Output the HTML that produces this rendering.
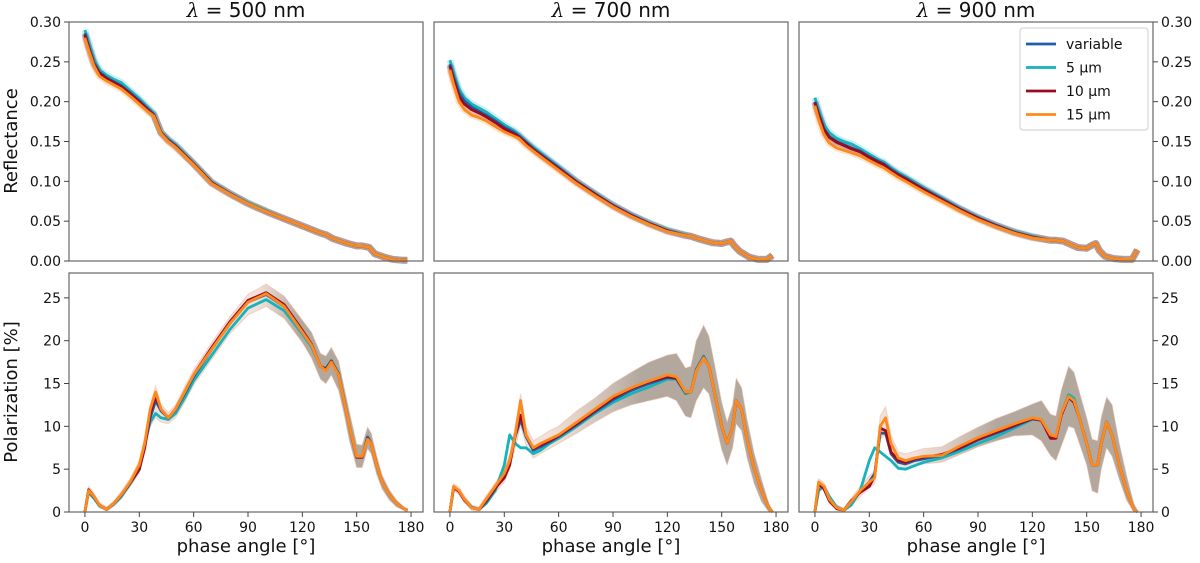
<!DOCTYPE html>
<html><head><meta charset="utf-8"><style>
body{margin:0;background:#fff;}
svg{display:block;font-family:"DejaVu Sans","Liberation Sans",sans-serif;}
</style></head><body>
<svg id="chart" width="1200" height="563" xmlns="http://www.w3.org/2000/svg"></svg>
<script>
const R_X=[0,2,5,8,12,16,20,25,30,35,38,42,46,50,60,70,80,90,100,110,120,130,133,137,145,150,153,155,157,160,165,170,175,178];
const R500_orange=[.280,.265,.245,.232,.226,.221,.216,.207,.197,.187,.182,.160,.150,.143,.121,.097,.084,.072,.062,.053,.044,.035,.033,.028,.022,.019,.019,.018,.017,.009,.005,.002,.001,.001];
const R500_cyan=[.290,.275,.253,.240,.233,.228,.224,.214,.204,.192,.185,.162,.153,.146,.123,.099,.085,.073,.063,.053,.044,.035,.033,.028,.022,.019,.019,.018,.017,.009,.005,.002,.001,.001];
const R500_red=[.284,.268,.247,.236,.229,.224,.219,.210,.200,.189,.183,.161,.151,.144,.122,.098,.084,.072,.062,.053,.044,.035,.033,.028,.022,.019,.019,.018,.017,.009,.005,.002,.001,.001];
const R500_blue=[.286,.270,.249,.237,.230,.225,.220,.211,.201,.190,.184,.161,.152,.145,.122,.098,.085,.072,.062,.053,.044,.035,.033,.028,.022,.019,.019,.018,.017,.009,.005,.002,.001,.001];
const R700_orange=[.240,.222,.200,.190,.183,.180,.176,.169,.162,.157,.154,.145,.138,.131,.114,.097,.082,.068,.056,.046,.037,.032,.031,.028,.023,.022,.024,.025,.019,.012,.005,.002,.002,.007];
const R700_cyan=[.252,.236,.216,.205,.197,.192,.187,.179,.171,.164,.159,.150,.143,.136,.118,.100,.085,.070,.058,.048,.039,.033,.031,.028,.023,.022,.024,.025,.019,.012,.005,.002,.002,.007];
const R700_red=[.245,.228,.207,.197,.190,.186,.181,.174,.166,.160,.156,.148,.140,.133,.116,.099,.084,.069,.057,.047,.038,.032,.031,.028,.023,.022,.024,.025,.019,.012,.005,.002,.002,.007];
const R700_blue=[.247,.231,.211,.201,.193,.188,.183,.176,.168,.162,.157,.149,.141,.134,.117,.099,.084,.070,.058,.047,.038,.032,.031,.028,.023,.022,.024,.025,.019,.012,.005,.002,.002,.007];
const R900_orange=[.195,.178,.158,.148,.142,.139,.136,.132,.126,.120,.117,.111,.105,.100,.087,.075,.063,.052,.043,.035,.029,.026,.026,.025,.017,.016,.020,.022,.013,.006,.003,.002,.002,.014];
const R900_cyan=[.205,.190,.171,.161,.154,.150,.147,.141,.134,.127,.124,.117,.111,.106,.092,.079,.066,.055,.045,.037,.031,.026,.026,.025,.017,.016,.020,.022,.013,.006,.003,.002,.002,.014];
const R900_red=[.199,.184,.165,.155,.149,.145,.141,.137,.130,.124,.121,.114,.108,.103,.090,.077,.065,.054,.044,.036,.030,.026,.026,.025,.017,.016,.020,.022,.013,.006,.003,.002,.002,.014];
const R900_blue=[.200,.185,.166,.156,.150,.146,.142,.138,.131,.125,.122,.115,.109,.104,.090,.078,.065,.054,.045,.036,.030,.026,.026,.025,.017,.016,.020,.022,.013,.006,.003,.002,.002,.014];

const P_X=[0,2,5,8,12,16,20,25,30,33,36,39,42,46,50,55,60,70,80,90,100,110,120,125,130,133,136,140,143,146,150,153,156,158,161,164,168,172,176,178];
const P500_orange=[0,2.5,1.8,0.8,0.3,1,2,3.5,5.5,8,12,14,12,11,12,14,16,19,22,24.5,25.5,24,21,19.5,17,16.5,17.5,16,13,10,6.5,6.5,8.5,8,5.5,3.5,2,1,0.4,0.2];
const P500_cyan=[0,2.3,1.6,0.7,0.3,0.9,1.8,3.3,5,8,10.5,11.5,11,10.8,11.5,13.3,15.3,18.3,21.3,23.8,24.8,23.5,20.8,19.3,17,16.8,17.7,16.2,13.2,10,6.5,6.4,8.8,8,5.5,3.5,2,1,0.4,0.2];
const P500_red=[0,2.6,1.8,0.8,0.3,1,2,3.4,5,7.5,11.5,13.5,12,11,12,14,16,19.2,22.2,24.7,25.6,24.2,21.2,19.6,17,16.6,17.6,16,13,10,6.4,6.4,8.6,8,5.5,3.5,2,1,0.4,0.2];
const P500_blue=[0,2.5,1.7,0.8,0.3,1,1.9,3.4,5,7.8,11,13,11.8,11,11.9,13.8,15.8,19,22,24.5,25.4,24,21,19.5,17,16.7,17.6,16.1,13,10,6.4,6.4,8.7,8,5.5,3.5,2,1,0.4,0.2];
const P500_lo=[0,2,1.4,0.5,0.1,0.7,1.5,3,4.5,7,10,11,10.5,10.3,11,12.8,14.8,17.8,20.8,23,24,22.6,19.8,18,15.5,15,16,14.2,11.5,8.3,5.2,5.2,7.4,6.8,4.4,2.7,1.4,0.6,0.2,0];
const P500_hi=[0,3,2.2,1.1,0.6,1.3,2.4,3.9,6,8.8,12.5,14.7,12.6,11.6,12.5,14.6,16.6,19.8,22.8,25.4,26.6,25.2,22.4,21,18.5,18.2,19.2,17.6,14.6,11.7,7.9,7.8,9.9,9.2,6.6,4.3,2.6,1.4,0.6,0.3];
const P700_orange=[0,3,2.5,1.5,0.5,0.3,1.5,3,4.5,6,9,13,9,7.5,8,8.5,9,10.5,12,13.5,14.5,15.3,16,15.8,14,14,16.5,18,17,14,10,8,10,13,12,8.5,5,2.5,0.5,0];
const P700_cyan=[0,2.8,2.4,1.5,0.6,0.3,1,2.5,5.5,9,8,7.5,7.5,6.8,7.2,8,8.6,10,11.5,12.8,13.8,14.6,15.5,15.5,13.8,14,16.7,18.2,17,14,10,8,10,13,12,8.5,5,2.5,0.5,0];
const P700_red=[0,2.9,2.4,1.4,0.5,0.3,1.3,2.8,4,5.5,9,11.3,9,7.4,7.8,8.3,8.9,10.3,11.8,13.3,14.4,15.2,15.8,15.6,14,14,16.5,18,17,14,10,8,10,13,12,8.5,5,2.5,0.5,0];
const P700_blue=[0,2.9,2.4,1.4,0.5,0.3,1.2,2.7,4.3,6,8.8,10.8,8.8,7.2,7.6,8.2,8.8,10.2,11.7,13.1,14.2,15,15.7,15.6,13.9,14,16.6,18.1,17,14,10,8,10,13,12,8.5,5,2.5,0.5,0];
const P700_lo=[0,2.5,2,1.1,0.2,0,0.8,2.2,3.5,5,7.5,10,7.8,6.3,6.8,7.4,8,9.2,10.5,11.7,12.5,13,13.5,13,11.2,11,13,14.5,13.8,11,7.3,5.5,7.5,10.3,9.5,6.3,3.3,1.2,0,0];
const P700_hi=[0,3.3,2.9,1.9,0.8,0.6,1.9,3.4,5,6.8,10,13.8,10,8.3,8.8,9.5,10,11.8,13.3,15,16.3,17.5,18.3,18.5,16.8,17,20,21.8,20.5,17.3,12.8,10.5,12.5,15.6,14.5,10.8,6.8,3.8,1,0.2];
const P900_orange=[0,3.5,3,1.5,0.5,0.2,1.2,2.5,3.5,4,10,11,8,6.3,6,6.3,6.5,6.6,7.7,8.7,9.5,10.3,11,10.8,9,8.8,11.5,13.5,13,11,8,5.5,5.5,8,10.5,9,5.5,2.5,0.3,0];
const P900_cyan=[0,2.5,3,1.8,0.6,0.2,0.8,2.5,6,7.5,7,6.5,6,5.1,5,5.4,5.8,6.3,7.1,8,8.8,9.8,10.8,10.8,9,8.8,11.5,13.7,13.3,11,8,5.5,5.5,8,10.5,9,5.5,2.5,0.3,0];
const P900_red=[0,3.3,2.7,1.3,0.4,0.2,1.3,2.3,3,4.2,9.8,9.5,7,6,5.8,6.2,6.4,6.7,7.5,8.5,9.3,10.1,10.9,10.7,8.6,8.6,11.3,13.4,12.8,11,8,5.5,5.5,8,10.5,9,5.5,2.5,0.3,0];
const P900_blue=[0,3.2,2.8,1.4,0.5,0.2,1.2,2.4,3.5,4.5,9.2,9.2,6.8,5.8,5.6,6,6.2,6.6,7.4,8.4,9.2,10,10.9,10.7,8.8,8.7,11.4,13.5,12.9,11,8,5.5,5.5,8,10.5,9,5.5,2.5,0.3,0];
const P900_lo=[0,3,2.5,1,0.2,0,0.7,1.8,2.8,3.3,8.5,9,6.8,5.2,5,5.4,5.6,5.8,6.7,7.6,8.3,8.9,9,8.3,6.6,6,7.7,10,9.8,8,5.5,2.5,2.2,5,7.5,6.5,3.8,1.4,0,0];
const P900_hi=[0,3.9,3.4,1.9,0.8,0.5,1.6,3,4.2,4.8,11.2,12.3,9,7,6.8,7.1,7.4,7.6,8.8,9.9,10.9,11.7,12.6,13,11.4,11.2,14.2,17,16.3,14,11,8.5,8.3,11,13.4,12.5,8,4.3,1,0.2];

const R_TICKS=[0,0.05,0.10,0.15,0.20,0.25,0.30];
const R_TICK_LABELS=["0.00","0.05","0.10","0.15","0.20","0.25","0.30"];
const P_TICKS=[0,5,10,15,20,25];
const X_TICKS=[0,30,60,90,120,150,180];
const TITLES=["500","700","900"];
const LEGEND_LABELS=["variable","5 \u03bcm","10 \u03bcm","15 \u03bcm"];
const BAND_FADE=[[95,118],[55,105],[55,100]];

const COL={blue:"#1f5ea8",cyan:"#17b3bd",red:"#9a0a22",orange:"#ff8a1c"};
const svg=document.getElementById('chart');
const NS="http://www.w3.org/2000/svg";
function mk(tag,attrs,parent){const e=document.createElementNS(NS,tag);for(const k in attrs)e.setAttribute(k,attrs[k]);(parent||svg).appendChild(e);return e;}
const defs=mk('defs',{});

const PX=[69,434,799], PW=354;
const ROWS=[{top:22,bot:261,ymin:0,ymax:0.30},{top:273,bot:512,ymin:0,ymax:27.9}];
const XMIN=-8.8,XMAX=186.6;

const RDATA=[[R500_blue,R500_cyan,R500_red,R500_orange],[R700_blue,R700_cyan,R700_red,R700_orange],[R900_blue,R900_cyan,R900_red,R900_orange]];
const PDATA=[[P500_blue,P500_cyan,P500_red,P500_orange,P500_lo,P500_hi],[P700_blue,P700_cyan,P700_red,P700_orange,P700_lo,P700_hi],[P900_blue,P900_cyan,P900_red,P900_orange,P900_lo,P900_hi]];

for(let c=0;c<3;c++){
  for(let r=0;r<2;r++){
    const row=ROWS[r];
    const xs=v=>PX[c]+(v-XMIN)/(XMAX-XMIN)*PW;
    const ys=v=>row.bot-(v-row.ymin)/(row.ymax-row.ymin)*(row.bot-row.top);
    const g=mk('g',{});
    
    
    const X=r==0?R_X:P_X;
    const path=arr=>arr.map((v,i)=>(i?'L':'M')+xs(X[i]).toFixed(1)+' '+ys(v).toFixed(1)).join(' ');
    const order=[[1,'cyan'],[0,'blue'],[2,'red'],[3,'orange']];
    if(r==0){
      const d=RDATA[c];
      order.forEach(([i,k])=>{const p=mk('path',{d:path(d[i]),fill:'none',stroke:COL[k],'stroke-width':7,'stroke-opacity':0.22,'stroke-linejoin':'round'},g);
        });
      order.forEach(([i,k])=>{const p=mk('path',{d:path(d[i]),fill:'none',stroke:COL[k],'stroke-width':2.8,'stroke-linejoin':'round'},g);
        });
    } else {
      const d=PDATA[c];
      const lo=d[4],hi=d[5];
      const gid='bg'+c;
      const lgd=mk('linearGradient',{id:gid,gradientUnits:'userSpaceOnUse',x1:xs(BAND_FADE[c][0]),x2:xs(BAND_FADE[c][1]),y1:0,y2:0},defs);
      mk('stop',{offset:0,'stop-color':'#e8c8b8','stop-opacity':0.55},lgd);
      mk('stop',{offset:1,'stop-color':'#8f7f70','stop-opacity':0.68},lgd);
      let bd=hi.map((v,i)=>(i?'L':'M')+xs(X[i]).toFixed(1)+' '+ys(v).toFixed(1)).join(' ');
      for(let i=lo.length-1;i>=0;i--)bd+=' L'+xs(X[i]).toFixed(1)+' '+ys(lo[i]).toFixed(1);
      const b=mk('path',{d:bd+' Z',fill:'url(#'+gid+')',stroke:'#e8b8a0','stroke-width':1,'stroke-opacity':0.5},g);
      
      order.forEach(([i,k])=>{const p=mk('path',{d:path(d[i]),fill:'none',stroke:COL[k],'stroke-width':2.8,'stroke-linejoin':'round'},g);
        });
    }
    const fr=mk('rect',{x:PX[c],y:row.top,width:PW,height:row.bot-row.top,fill:'none',stroke:'#666','stroke-width':1.2},g);
    
    const ticks=r==0?R_TICKS:P_TICKS;
    ticks.forEach((t,i)=>{
      const y=ys(t);
      if(c==0){mk('line',{x1:PX[c]-5,x2:PX[c],y1:y,y2:y,stroke:'#444'},g);
        const tx=mk('text',{x:PX[c]-8,y:y+5,'text-anchor':'end','font-size':14,fill:'#111'},g);tx.textContent=r==0?R_TICK_LABELS[i]:t;
        }
      if(c==2){mk('line',{x1:PX[c]+PW,x2:PX[c]+PW+5,y1:y,y2:y,stroke:'#444'},g);
        const tx=mk('text',{x:PX[c]+PW+8,y:y+5,'text-anchor':'start','font-size':14,fill:'#111'},g);tx.textContent=r==0?R_TICK_LABELS[i]:t;
        }
    });
    if(r==1){
      X_TICKS.forEach(t=>{const x=xs(t);mk('line',{x1:x,x2:x,y1:row.bot,y2:row.bot+5,stroke:'#444'},g);
        const tx=mk('text',{x:x,y:row.bot+20,'text-anchor':'middle','font-size':14,fill:'#111'},g);tx.textContent=t;
        });
      const xl=mk('text',{x:PX[c]+PW/2,y:552,'text-anchor':'middle','font-size':18,fill:'#111'},g);xl.textContent='phase angle [\u00b0]';
      
    } else {
      const tt=mk('text',{x:PX[c]+PW/2,y:17,'text-anchor':'middle','font-size':20,fill:'#111'},g);
      tt.innerHTML='<tspan font-style="italic" font-family="DejaVu Serif, serif">\u03bb</tspan> = '+TITLES[c]+' nm';
      
    }
  }
}
const yl1=mk('text',{x:0,y:0,transform:'translate(17,141) rotate(-90)','text-anchor':'middle','font-size':18,fill:'#111'});yl1.textContent='Reflectance';

const yl2=mk('text',{x:0,y:0,transform:'translate(17,392) rotate(-90)','text-anchor':'middle','font-size':18,fill:'#111'});yl2.textContent='Polarization [%]';


const lg=mk('g',{});

mk('rect',{x:1020,y:28,width:128,height:102,rx:3,fill:'#fff','fill-opacity':0.85,stroke:'#ccc'},lg);
const lcols=[COL.blue,COL.cyan,COL.red,COL.orange];
LEGEND_LABELS.forEach((l,i)=>{const y=44+i*23.5;
  const e=mk('g',{},lg);
  mk('line',{x1:1026,x2:1056,y1:y,y2:y,stroke:lcols[i],'stroke-width':2.8},e);
  const t=mk('text',{x:1066,y:y+5,'font-size':14,fill:'#111'},e);t.textContent=l;});
</script>
</body></html>
